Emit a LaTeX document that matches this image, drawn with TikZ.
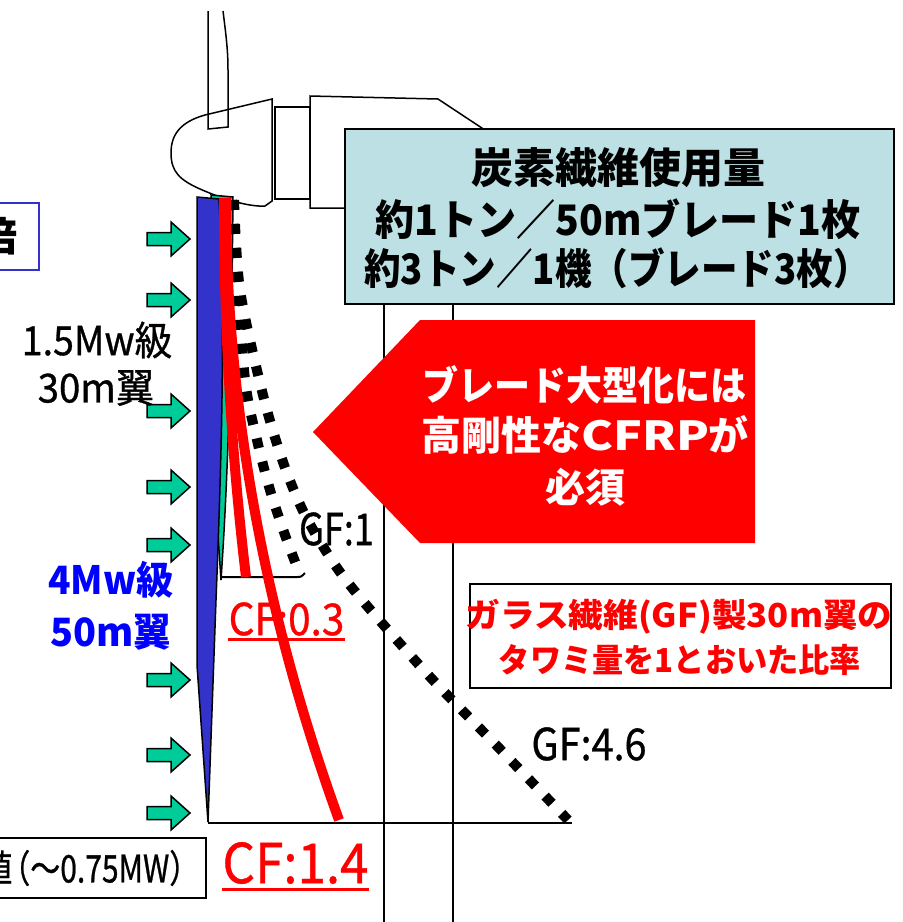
\documentclass[tikz,border=0pt]{standalone}
\usepackage{fontspec}
\usepackage{graphicx}
\newfontfamily\jp{Noto Sans CJK JP}
\newfontfamily\jpm{Noto Sans CJK JP}[FakeBold=0.8]
\definecolor{boxcyan}{RGB}{188,224,227}
\definecolor{windgreen}{RGB}{0,204,153}
\definecolor{bladeblue}{RGB}{51,51,204}
\definecolor{labelblue}{RGB}{0,0,255}
\newcommand\hsc[2]{\scalebox{#1}[1]{#2}}
\newcommand\fs[1]{\fontsize{#1}{#1}\selectfont}
\tikzset{
  thinline/.style={draw=black, line width=1.5pt},
  frame/.style={draw=black, line width=2pt},
  wind/.style={fill=windgreen, draw=black, line width=1.5pt, line join=miter},
  gfdots/.style={draw=black, line width=10pt, dash pattern=on 10pt off 14pt},
  cfline/.style={draw=red, line width=10pt},
  txt/.style={inner sep=0pt},
}
\begin{document}
\begin{tikzpicture}[x=1pt,y=-1pt]
\useasboundingbox (0,0) rectangle (903,922);
\clip (0,0) rectangle (903,922);
\fill[white] (0,0) rectangle (903,922);

% rotor hub
\draw[thinline, fill=white] (272,99) -- (205,115) .. controls (180,122) and (171,135) .. (171,153)
  .. controls (171,172) and (180,180) .. (200,189) .. controls (225,200) and (250,207) .. (265,206) -- (272,201) -- cycle;
% upper blade
\draw[thinline] (223,11) .. controls (226,35) and (228,50) .. (228,70) -- (228,127) -- (208,129) -- (208,11);
% shaft
\draw[thinline] (275,107) rectangle (310,199);
% nacelle
\draw[thinline, fill=white] (310,96) -- (438,99) -- (500,140) -- (500,208) -- (310,208) -- cycle;

% carbon fibre usage box
\node[frame, fill=boxcyan, minimum width=549pt, minimum height=175pt, inner sep=0pt, anchor=north west] (usage) at (344,128) {};
\node[txt, font=\jp\fs{42}\bfseries] (u1) at (618,168) {炭素繊維使用量};
\node[txt, font=\jp\fs{42}\bfseries] (u2) at (618,219) {\hsc{0.93}{約1トン／50mブレード1枚}};
\node[txt, font=\jp\fs{42}\bfseries] (u3) at (617,268) {\hsc{0.87}{約3トン／1機（ブレード3枚）}};

% tower
\draw[frame] (384,303) -- (384,922);
\draw[frame] (453,303) -- (453,922);

% tip levels
\draw[frame] (208,823) -- (572,823);
\draw[frame] (222,577) -- (297,577) .. controls (301,577) .. (305,573);

% 30 m blade and 50 m blade
\draw[thinline, fill=windgreen] (211,195) -- (233,197) .. controls (232,300) and (230,450) .. (221,580) -- (217,520) -- (213,300) -- cycle;
\draw[thinline, fill=bladeblue] (197,197) -- (219,199) .. controls (224,300) and (224,400) .. (216,600) -- (208,822) -- (197,665) -- cycle;

% wind load
\foreach \y in {239,300,411,487,545,680,755,813}
  \draw[wind] (147,{\y-6.5}) -- (171,{\y-6.5}) -- (171,{\y-17}) -- (190,\y) -- (171,{\y+17}) -- (171,{\y+6.5}) -- (147,{\y+6.5}) -- cycle;

% side labels
\node[txt, font=\jpm\fs{40}] (l15) at (97,340) {\hsc{0.94}{1.5Mw級}};
\node[txt, font=\jpm\fs{40}] (l30) at (96,388) {\hsc{0.96}{30m翼}};
\node[txt, font=\jp\fs{39}\bfseries, text=labelblue] (l4) at (111,580) {\hsc{0.95}{4Mw級}};
\node[txt, font=\jp\fs{39}\bfseries, text=labelblue] (l50) at (111,632) {\hsc{0.97}{50m翼}};

% boxes cut by the left edge
\node[draw=bladeblue, line width=2pt, minimum width=60pt, minimum height=67pt, inner sep=0pt, anchor=north east] (ratiobox) at (40,202) {};
\node[txt, font=\jp\fs{40}\bfseries, anchor=east] (ratio) at (18,236) {倍};
\node[frame, minimum width=227pt, minimum height=60pt, inner sep=0pt, anchor=north east] (basebox) at (207,837) {};
\node[txt, font=\jpm\fs{38}, anchor=west] (base) at (-18,868) {\hsc{0.79}{値\kern-0.4em（～0.75MW）}};

% deflection labels
\node[txt, font=\jpm\fs{44}, text=red] (cf03) at (286.5,619) {\hsc{0.92}{CF:0.3}};
\draw[red, line width=3pt] ([yshift=-4pt]cf03.south west) -- ([yshift=-4pt]cf03.south east);
\node[txt, font=\jpm\fs{55}, text=red] (cf14) at (295.5,863) {\hsc{0.93}{CF:1.4}};
\draw[red, line width=3pt] ([yshift=-5pt]cf14.south west) -- ([yshift=-5pt]cf14.south east);
\node[txt, font=\jpm\fs{44}] (gf1) at (336.5,529) {\hsc{0.82}{GF:1}};
\node[txt, font=\jpm\fs{44}] (gf46) at (589,744) {\hsc{0.9}{GF:4.6}};

% deflection curves
\draw[gfdots] plot[smooth] coordinates {(232,200) (236,260) (245,380) (257,440) (270,490) (285,535) (299,572)};
\draw[gfdots] plot[smooth] coordinates {(234,200) (240,290) (263,395) (283,462) (305,515) (335,565) (368,607) (432,679) (499,748) (568,820)};
\draw[cfline] (224,198) .. controls (224,324) and (231,451) .. (246,577);
\draw[cfline] (226,198) .. controls (226,405) and (264,613) .. (339,820);

% call-out
\fill[red] (313,432) -- (420,320) -- (755,320) -- (755,543) -- (420,543) -- cycle;
\node[txt, font=\jp\fs{40}\bfseries, text=white] (c1) at (584,385) {\hsc{0.9}{ブレード大型化には}};
\node[txt, font=\jp\fs{40}\bfseries, text=white] (c2) at (585,435) {高剛性な\hsc{1.2}{CFRP}が};
\node[txt, font=\jp\fs{40}\bfseries, text=white] (c3) at (585,487) {必須};

% note on the ratio
\node[frame, minimum width=421pt, minimum height=104pt, inner sep=0pt, anchor=north west] (gfnote) at (469,583) {};
\node[txt, font=\jp\fs{33}\bfseries, text=red] (n1) at (679,617) {\hsc{1.05}{ガラス繊維(GF)製30m翼の}};
\node[txt, font=\jp\fs{33}\bfseries, text=red] (n2) at (680,660) {\hsc{0.945}{タワミ量を1とおいた比率}};
\end{tikzpicture}
\end{document}
